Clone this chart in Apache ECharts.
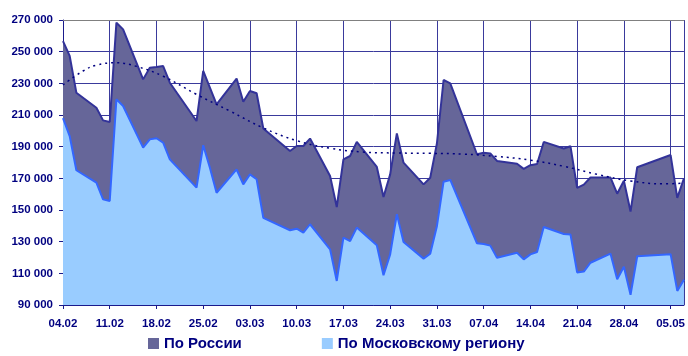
<!DOCTYPE html>
<html>
<head>
<meta charset="utf-8">
<script src="https://cdn.jsdelivr.net/npm/echarts@6/dist/echarts.min.js"></script>
<style>
  html, body { margin: 0; padding: 0; background: #ffffff; }
  #chart { width: 688px; height: 356px; }
</style>
</head>
<body>
<div id="chart"></div>
<script>
// Trading days (dd.mm, year 2004)
const year = 2004;
const dates = [
  '04.02','05.02','06.02','09.02','10.02','11.02','12.02','13.02',
  '16.02','17.02','18.02','19.02','20.02','24.02','25.02','26.02','27.02',
  '01.03','02.03','03.03','04.03','05.03','09.03','10.03','11.03','12.03',
  '15.03','16.03','17.03','18.03','19.03','22.03','23.03','24.03','25.03','26.03',
  '29.03','30.03','31.03','01.04','02.04','06.04','07.04','08.04','09.04',
  '12.04','13.04','14.04','15.04','16.04','19.04','20.04','21.04','22.04','23.04',
  '26.04','27.04','28.04','29.04','30.04','05.05','06.05','07.05'
];

// Totals for Russia
const russia = [
  256700, 247300, 224100, 214600, 206600, 205600, 268300, 264100,
  232500, 239900, 240300, 240900, 230400, 206200, 237800, 227300, 216700,
  233000, 218400, 225200, 223700, 201500, 187300, 190400, 190400, 195100,
  171500, 151900, 182000, 184100, 193000, 177200, 158200, 172500, 198400, 179900,
  166200, 170400, 192000, 232100, 230000, 185200, 186100, 185700, 181000,
  179200, 176000, 178300, 179000, 193000, 188800, 190300, 164000, 166000, 170500,
  170500, 160300, 168500, 149000, 177000, 184700, 157700, 170000
];

// Moscow region
const moscow = [
  208000, 196700, 175100, 167300, 156700, 155700, 219900, 215700,
  189400, 194600, 195300, 192500, 182000, 164100, 190900, 176700, 160900,
  175600, 166200, 172500, 169400, 145000, 137200, 138200, 135700, 141000,
  125200, 105200, 132500, 130400, 138900, 127700, 108800, 122000, 147300, 129800,
  119300, 122400, 139800, 167900, 169000, 129000, 128500, 127500, 119900,
  123000, 118800, 122000, 123500, 139300, 134800, 134600, 110600, 111100, 116700,
  122400, 106200, 114200, 96500, 120800, 122100, 98900, 106000
];

// Trend curve of the Russia total (dotted line)
const trendDates = [
  '04.02','07.02','09.02','12.02','15.02','19.02','24.02','29.02',
  '05.03','10.03','15.03','20.03','25.03','30.03','04.04','09.04',
  '14.04','19.04','24.04','29.04','04.05','07.05'
];
const trend = [
  229000, 237800, 241500, 243000, 240700, 234500, 223000, 212500,
  201800, 193800, 189000, 186600, 186000, 185800, 185300, 183800,
  181500, 177600, 172500, 168300, 166500, 167000
];

const seriesNames = ['По России', 'По Московскому региону'];

const DAY = 86400000;
const start = Date.UTC(year, 1, 4);
const lastDay = 93;

function dayIndex(s) {
  const [dd, mm] = s.split('.').map(Number);
  return Math.round((Date.UTC(year, mm - 1, dd) - start) / DAY);
}
function dayLabel(v) {
  const d = new Date(start + v * DAY);
  const dd = String(d.getUTCDate()).padStart(2, '0');
  const mm = String(d.getUTCMonth() + 1).padStart(2, '0');
  return dd + '.' + mm;
}
function thousands(v) {
  return String(v).replace(/\B(?=(\d{3})+(?!\d))/g, ' ');
}

const days = dates.map(dayIndex);
const russiaPts = days.map((d, i) => [d, russia[i]]);
const moscowPts = days.map((d, i) => [d, moscow[i]]);
const trendPts = trendDates.map((s, i) => [dayIndex(s), trend[i]]);

const navy = '#000080';
const gridBlue = '#3a3a9c';
const font = "'Liberation Sans', Arial, sans-serif";

const chart = echarts.init(document.getElementById('chart'));
chart.setOption({
  animation: false,
  backgroundColor: '#ffffff',
  grid: { left: 63, top: 20, right: 0, bottom: 51, containLabel: false },
  legend: {
    data: [
      { name: seriesNames[0], itemStyle: { color: '#666699', borderWidth: 0 } },
      { name: seriesNames[1], itemStyle: { color: '#99CCFF', borderWidth: 0 } }
    ],
    icon: 'rect',
    left: 143,
    top: 331,
    itemWidth: 11,
    itemHeight: 11,
    itemGap: 80,
    textStyle: { color: navy, fontWeight: 'bold', fontSize: 15, fontFamily: font }
  },
  xAxis: [
    {
      type: 'value',
      min: 0,
      max: lastDay,
      interval: 7,
      axisLine: { show: true, lineStyle: { color: '#1a1a8c', width: 1 } },
      axisTick: { show: true, length: 4, lineStyle: { color: '#1a1a8c' } },
      axisLabel: {
        color: navy, fontWeight: 'bold', fontSize: 11.5, fontFamily: font, margin: 13,
        showMaxLabel: false,
        formatter: v => (v % 7 === 0 ? dayLabel(v) : '')
      },
      splitLine: { show: true, lineStyle: { color: gridBlue, width: 1 } }
    },
    {
      type: 'value',
      position: 'top',
      min: 0,
      max: lastDay,
      axisLine: { show: true, lineStyle: { color: '#808080', width: 1 } },
      axisTick: { show: false },
      axisLabel: { show: false },
      splitLine: { show: false }
    }
  ],
  yAxis: {
    type: 'value',
    min: 90000,
    max: 270000,
    interval: 20000,
    axisLine: { show: true, lineStyle: { color: '#1a1a8c', width: 1 } },
    axisTick: { show: true, length: 4, lineStyle: { color: '#1a1a8c' } },
    axisLabel: {
      color: navy, fontWeight: 'bold', fontSize: 11.5, fontFamily: font, margin: 10,
      formatter: v => thousands(v)
    },
    splitLine: { show: true, lineStyle: { color: gridBlue, width: 1 } }
  },
  series: [
    {
      name: seriesNames[0],
      type: 'line',
      data: russiaPts,
      showSymbol: false,
      itemStyle: { color: '#666699' },
      lineStyle: { color: '#333399', width: 2 },
      areaStyle: { color: '#666699', opacity: 1, origin: 'start' },
      z: 2
    },
    {
      name: seriesNames[1],
      type: 'line',
      data: moscowPts,
      showSymbol: false,
      itemStyle: { color: '#99CCFF' },
      lineStyle: { color: '#3366FF', width: 2 },
      areaStyle: { color: '#99CCFF', opacity: 1, origin: 'start' },
      z: 3
    },
    {
      name: 'trend',
      type: 'line',
      data: trendPts,
      showSymbol: false,
      smooth: 0.4,
      lineStyle: { color: navy, width: 1.5, type: [2, 4] },
      z: 4
    }
  ]
});
</script>
</body>
</html>
